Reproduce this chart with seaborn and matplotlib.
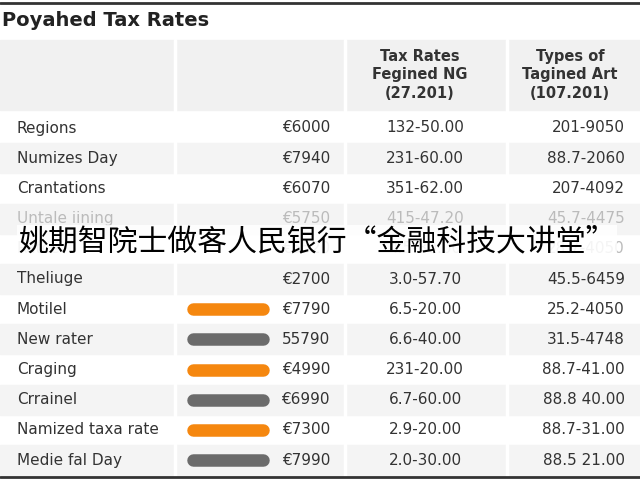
import matplotlib.pyplot as plt
import seaborn as sns

sns.set_theme(style="white")
plt.rcParams['font.family'] = ['DejaVu Sans', 'Noto Sans CJK SC']

title = "Poyahed Tax Rates"
col_heads = ["Tax Rates\nFegined NG\n(27.201)", "Types of\nTagined Art\n(107.201)"]
labels = ["Regions", "Numizes Day", "Crantations", "Untale iining", "Ratce",
          "Theliuge", "Motilel", "New rater", "Craging", "Crrainel",
          "Namized taxa rate", "Medie fal Day"]
amounts = ["€6000", "€7940", "€6070", "€5750", "€5520", "€2700",
           "€7790", "55790", "€4990", "€6990", "€7300", "€7990"]
tax_rates = ["132-50.00", "231-60.00", "351-62.00", "415-47.20", "4.5-30.00",
             "3.0-57.70", "6.5-20.00", "6.6-40.00", "231-20.00", "6.7-60.00",
             "2.9-20.00", "2.0-30.00"]
types = ["201-9050", "88.7-2060", "207-4092", "45.7-4475", "28.7-4050",
         "45.5-6459", "25.2-4050", "31.5-4748", "88.7-41.00", "88.8 40.00",
         "88.7-31.00", "88.5 21.00"]
pill_colors = [None, None, None, None, None, None,
               "#f5870f", "#6b6b6b", "#f5870f", "#6b6b6b", "#f5870f", "#6b6b6b"]
faded = [False, False, False, True, True, False,
         False, False, False, False, False, False]
caption = "姚期智院士做客人民银行“金融科技大讲堂”"

fig = plt.figure(figsize=(6.4, 4.8), dpi=100)
ax = fig.add_axes([0, 0, 1, 1])
ax.set_xlim(0, 640)
ax.set_ylim(480, 0)
ax.axis("off")

row_y0, row_h = 128, 30.2
# header band
ax.add_patch(plt.Rectangle((0, 40), 640, 70, color="#f1f1f1", zorder=0))
for i in range(len(labels)):
    y = row_y0 + i * row_h
    if i % 2 == 1:
        ax.add_patch(plt.Rectangle((0, y - row_h / 2), 640, row_h, color="#f4f4f4", zorder=0))
for x in [175, 345, 507]:
    ax.plot([x, x], [40, 475], color="white", lw=2.5, zorder=1)
ax.plot([0, 640], [3, 3], color="#333333", lw=2)
ax.plot([0, 640], [477, 477], color="#333333", lw=2)

ax.text(2, 20, title, fontsize=14, fontweight="bold", va="center", color="#222222")
ax.text(420, 75, col_heads[0], fontsize=10.5, ha="center", va="center", color="#333333",
        linespacing=1.3, fontweight="semibold")
ax.text(570, 75, col_heads[1], fontsize=10.5, ha="center", va="center", color="#333333",
        linespacing=1.3, fontweight="semibold")
for i in range(len(labels)):
    y = row_y0 + i * row_h
    c = "#bbbbbb" if faded[i] else "#333333"
    ax.text(17, y, labels[i], fontsize=11, va="center", color=c)
    ax.text(330, y, amounts[i], fontsize=11, va="center", ha="right", color=c)
    ax.text(425, y, tax_rates[i], fontsize=11, va="center", ha="center", color=c)
    ax.text(625, y, types[i], fontsize=11, va="center", ha="right", color=c)
    if pill_colors[i]:
        ax.plot([193, 263], [y, y], color=pill_colors[i], lw=9, solid_capstyle="round")

ax.text(18, 242, caption, fontsize=21.5, va="center", color="black",
        family=['Noto Sans CJK SC', 'DejaVu Sans'],
        bbox=dict(facecolor="white", edgecolor="none", alpha=0.85, pad=1))

fig.savefig("out.png", dpi=100)
